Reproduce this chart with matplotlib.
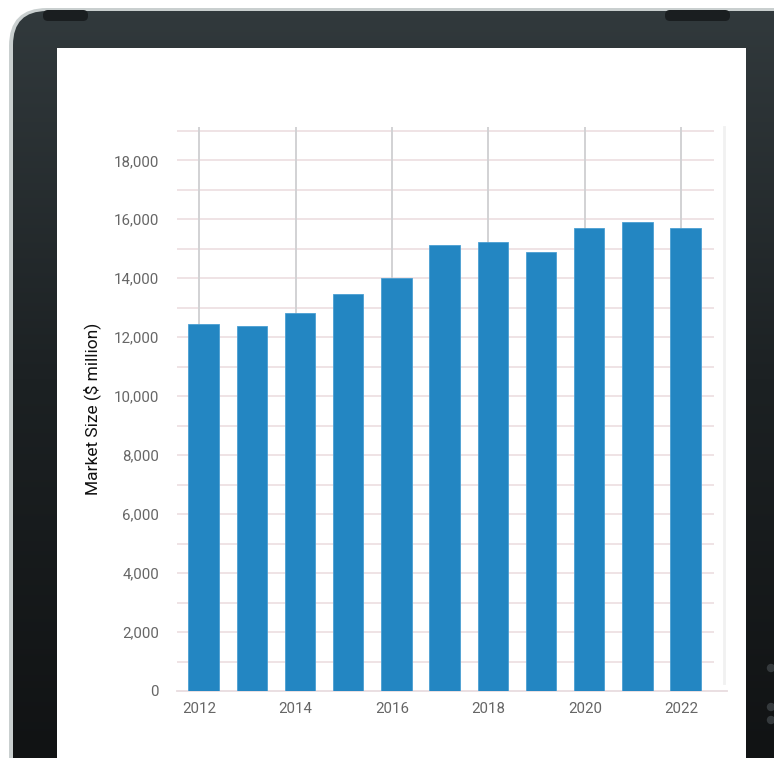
import numpy as np
import matplotlib
matplotlib.use("Agg")
import matplotlib.pyplot as plt
from matplotlib.patches import FancyBboxPatch, Rectangle
from matplotlib.ticker import MultipleLocator, FuncFormatter

# ---- data ----
years = [2012, 2013, 2014, 2015, 2016, 2017, 2018, 2019, 2020, 2021, 2022]
market_size = [12450, 12380, 12820, 13470, 14010, 15130, 15230, 14890, 15720, 15920, 15720]
tick_years = [2012, 2014, 2016, 2018, 2020, 2022]
y_label = "Market Size ($ million)"

W, H = 774, 758
fig = plt.figure(figsize=(W / 100, H / 100), dpi=100)
fig.patch.set_facecolor("white")

def fx(px):
    return px / W

def fy(py):
    return 1 - py / H

# ---- tablet frame ----
bg = fig.add_axes([0, 0, 1, 1])
bg.set_xlim(0, W)
bg.set_ylim(H, 0)
bg.axis("off")
outer = FancyBboxPatch((9, 8), W + 40, H + 60, boxstyle="round,pad=0,rounding_size=38",
                       facecolor="#c9cfcf", edgecolor="none")
bg.add_patch(outer)
inner = FancyBboxPatch((13, 11), W + 40, H + 60, boxstyle="round,pad=0,rounding_size=34",
                       facecolor="none", edgecolor="none")
bg.add_patch(inner)
grad = np.linspace(0, 1, 256).reshape(-1, 1)
cmap = matplotlib.colors.LinearSegmentedColormap.from_list("bez", ["#323a3d", "#1c2123", "#111314"])
im = bg.imshow(grad, extent=[0, W, H, 0], cmap=cmap, aspect="auto", zorder=1)
im.set_clip_path(inner)
# camera notches
for x0, x1 in [(43, 88), (665, 730)]:
    bg.add_patch(FancyBboxPatch((x0, 10), x1 - x0, 11, boxstyle="round,pad=0,rounding_size=5",
                                facecolor="#1a1e20", edgecolor="none", zorder=2))
for yy in [668, 707, 720]:
    bg.add_patch(plt.Circle((771, yy), 3.5, color="#353a3d", zorder=2))
# screen
bg.add_patch(Rectangle((57, 48), 746 - 57, H - 48, facecolor="white", edgecolor="none", zorder=3))
# faint panel edge
bg.plot([724, 724], [127, 683], color="#f1f1f1", lw=2, zorder=4)
# bottom axis line extension
bg.plot([177, 727], [691, 691], color="#e8dcdf", lw=1.3, zorder=4)

# ---- chart ----
ax = fig.add_axes([fx(177), fy(691), fx(714) - fx(177), fy(127) - fy(691)])
ax.set_facecolor("none")
ax.bar([y + 0.09 for y in years], market_size, width=0.63, color="#2386c2",
       edgecolor="#4a9fd2", linewidth=0.6, zorder=3)
ax.set_xlim(2011.54, 2022.68)
ax.set_ylim(0, 19130)

ax.yaxis.set_major_locator(MultipleLocator(2000))
ax.yaxis.set_minor_locator(MultipleLocator(1000))
ax.yaxis.set_major_formatter(FuncFormatter(lambda v, p: f"{int(v):,}"))
ax.set_xticks(tick_years)
ax.set_xticklabels([str(t) for t in tick_years])

ax.grid(False)
for v in range(1000, 20000, 1000):
    ax.axhline(v, color="#eee0e3", lw=1.3, zorder=1)
for t in tick_years:
    ax.axvline(t, color="#d2d2d4", lw=1.4, zorder=2)

for s in ax.spines.values():
    s.set_visible(False)
ax.tick_params(axis="both", which="both", length=0)
ax.tick_params(axis="y", pad=13, labelsize=10.8, labelcolor="#666666")
ax.tick_params(axis="x", pad=8, labelsize=10.8, labelcolor="#666666")
for lab in ax.get_yticklabels():
    lab.set_fontfamily("Roboto")
for lab in ax.get_xticklabels():
    lab.set_fontfamily("Roboto")

fig.text(fx(92), fy(409), y_label, rotation=90, ha="center", va="center",
         fontsize=12.5, color="#111111", family="Roboto")

fig.savefig("out.png", dpi=100)
